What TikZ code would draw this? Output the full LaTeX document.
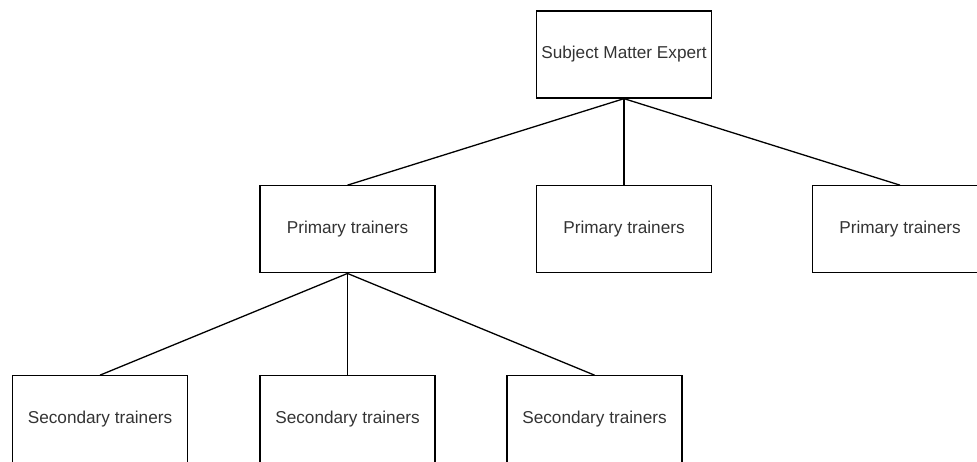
\documentclass[tikz,border=0pt]{standalone}
\usepackage{fontspec}
\setmainfont{Liberation Sans}
\definecolor{txt}{HTML}{333333}
\begin{document}
\begin{tikzpicture}[x=1pt,y=1pt,
  box/.style={draw=black, line width=1.3pt, rectangle, minimum width=175pt, minimum height=87pt, inner sep=0pt,
    text=txt, font=\fontsize{17.2}{20}\selectfont},
  link/.style={draw=black, line width=1.3pt}]
\useasboundingbox (0,0) rectangle (977,-461);
\clip (0,0) rectangle (977,-461);
\node[box] (sme) at (624,-54.5) {Subject Matter Expert};
\node[box] (p1) at (347.5,-229.3) {Primary trainers};
\node[box] (p2) at (624,-229.3) {Primary trainers};
\node[box] (p3) at (900,-229.3) {Primary trainers};
\node[box] (s1) at (100,-419.3) {Secondary trainers};
\node[box] (s2) at (347.5,-419.3) {Secondary trainers};
\node[box] (s3) at (594.5,-419.3) {Secondary trainers};
\draw[link] (sme.south) -- (p1.north);
\draw[link] (sme.south) -- (p2.north);
\draw[link] (sme.south) -- (p3.north);
\draw[link] (p1.south) -- (s1.north);
\draw[link] (p1.south) -- (s2.north);
\draw[link] (p1.south) -- (s3.north);
\end{tikzpicture}
\end{document}
